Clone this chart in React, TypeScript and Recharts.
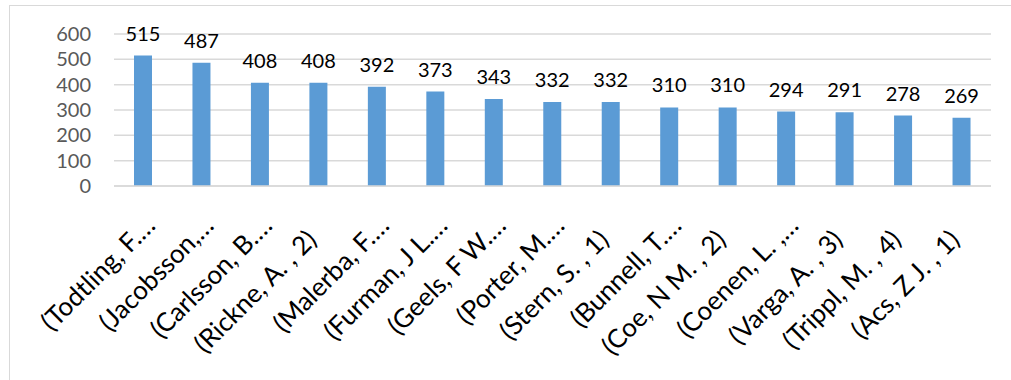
import { BarChart, Bar, XAxis, YAxis, CartesianGrid, LabelList } from 'recharts';

const authors = [
  '(Todtling, F.…',
  '(Jacobsson,…',
  '(Carlsson, B.…',
  '(Rickne, A. , 2)',
  '(Malerba, F.…',
  '(Furman, J L.…',
  '(Geels, F W.…',
  '(Porter, M.…',
  '(Stern, S. , 1)',
  '(Bunnell, T.…',
  '(Coe, N M. , 2)',
  '(Coenen, L. ,…',
  '(Varga, A. , 3)',
  '(Trippl, M. , 4)',
  '(Acs, Z J. , 1)',
];

const citations = [515, 487, 408, 408, 392, 373, 343, 332, 332, 310, 310, 294, 291, 278, 269];

const yTicks = [0, 100, 200, 300, 400, 500, 600];

const FONT = 'Lato, "Noto Sans", sans-serif';

const rows = authors.map((name, i) => ({ name, value: citations[i] }));

// Rotated category label; clipped names (ending in an ellipsis) sit a bit further up the slant
// eslint-disable-next-line @typescript-eslint/no-explicit-any
function AuthorTick({ x, payload }: any) {
  const label: string = payload.value;
  const shift = label.endsWith('…') ? 20 : 0;
  return (
    <g transform={`translate(${x - 7},${235}) rotate(-45)`}>
      <text x={shift} y={0} dy="0.35em" textAnchor="end" fill="#000" fontSize={26} fontFamily={FONT}>
        {label}
      </text>
    </g>
  );
}

export default function App() {
  return (
    <div style={{ position: 'absolute', left: 0, top: 0, width: 1011, height: 380, background: '#fff', overflow: 'hidden' }}>
      {/* chart frame */}
      <div
        style={{
          position: 'absolute',
          left: 9,
          top: 5,
          width: 1020,
          height: 400,
          border: '1.5px solid #D9D9D9',
          boxSizing: 'border-box',
        }}
      />
      <BarChart
        width={1011}
        height={380}
        data={rows}
        margin={{ top: 34, right: 20, left: 0, bottom: 44 }}
        style={{ position: 'absolute', left: 0, top: 0 }}
      >
        <CartesianGrid vertical={false} stroke="#D9D9D9" strokeWidth={1.5} />
        <XAxis
          dataKey="name"
          height={150}
          interval={0}
          tickLine={false}
          axisLine={{ stroke: '#D9D9D9', strokeWidth: 1.5 }}
          tick={<AuthorTick />}
        />
        <YAxis
          width={114}
          domain={[0, 600]}
          ticks={yTicks}
          interval={0}
          tickLine={false}
          axisLine={false}
          tickSize={0}
          tickMargin={23}
          tick={{ fill: '#595959', fontSize: 20, fontFamily: FONT }}
        />
        <Bar dataKey="value" fill="#5B9BD5" barSize={18} isAnimationActive={false}>
          <LabelList dataKey="value" position="top" offset={15} fill="#000" fontSize={20} fontFamily={FONT} />
        </Bar>
      </BarChart>
    </div>
  );
}
